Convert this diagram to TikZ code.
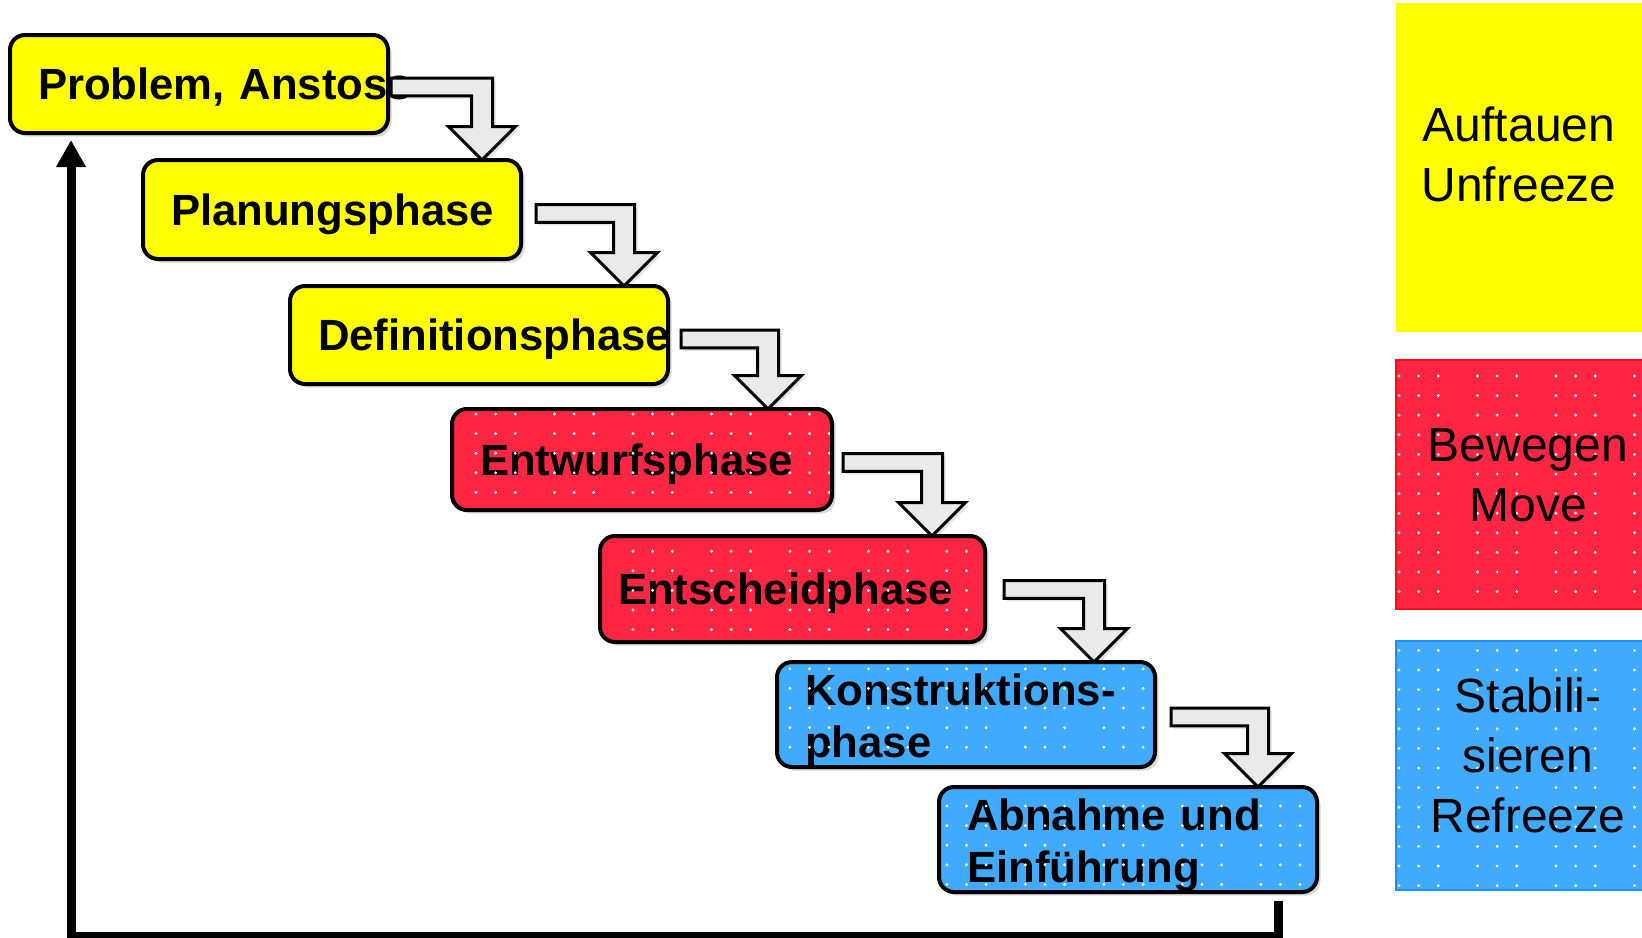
\documentclass[tikz,border=0pt]{standalone}
\usepackage{fontspec}
\setmainfont{Liberation Sans}
\usetikzlibrary{calc,arrows.meta,shadows}

\definecolor{stageyellow}{RGB}{255,255,0}
\definecolor{stagered}{RGB}{255,38,68}
\definecolor{stageblue}{RGB}{64,170,255}
\definecolor{redline}{RGB}{255,10,30}
\definecolor{blueline}{RGB}{30,145,255}
\definecolor{arrowgray}{RGB}{234,234,234}

\tikzset{
  stage/.style={draw=black, line width=2pt, rounded corners=7.5pt, anchor=north west,
    outer sep=0pt, inner xsep=14pt, inner ysep=0pt, text width=161pt, align=left,
    text depth=0pt,
    font=\bfseries\fontsize{21.85}{26}\selectfont,
    drop shadow={shadow xshift=1.8pt, shadow yshift=-1.8pt, fill=black, opacity=0.15}},
  twoline/.style={text depth=24.6pt},
  stagearrow/.style={draw=black, line width=1.5pt, fill=arrowgray, line join=miter,
    drop shadow={shadow xshift=1.5pt, shadow yshift=-1.5pt, fill=black, opacity=0.1}},
  feedback/.style={draw=black, line width=4.5pt, line join=miter,
    -{Triangle[length=13.5pt,width=14pt]}},
  panelbox/.style={rectangle, anchor=north west, outer sep=0pt, inner sep=0pt,
    minimum width=132pt},
  paneltext/.style={align=center, inner sep=0pt, font=\fontsize{24}{30}\selectfont},
  griddot/.style={fill=white},
}

% bent step arrow: from node #1 (offset #2 from its east anchor) down onto node #3,
% tip #4 units left of its north east corner
\newcommand\stagearrow[4]{%
  \path[stagearrow] let \p1=($(#1.east)+(#2)$), \p2=($(#3.north east)+(-#4,0)$) in
    (\x1,\y1+4.4pt) -- (\x2+5.25pt,\y1+4.4pt) -- (\x2+5.25pt,\y2+16.75pt)
    -- (\x2+16.75pt,\y2+16.75pt) -- (\x2,\y2) -- (\x2-16.75pt,\y2+16.75pt)
    -- (\x2-5.25pt,\y2+16.75pt) -- (\x2-5.25pt,\y1-4.4pt) -- (\x1,\y1-4.4pt) -- cycle;}

% white dot raster laid over a node, every fourth column left out
\newcommand\dotgrid[5]{%
  \begin{scope}
    \clip[rounded corners=6pt] ($(#1.south west)+(2,-2)$) rectangle ($(#1.north east)+(-2,2)$);
    \foreach \n in {#2,...,#3}{%
      \pgfmathtruncatemacro\k{mod(\n+400,4)}%
      \ifnum\k=3\relax\else
        \foreach \m in {#4,...,#5}{\fill[griddot] ({476+19.62*(\n)},{414+19.6*(\m)}) circle (0.8pt);}%
      \fi}
  \end{scope}}

\newcommand\paneldots[4]{%
  \begin{scope}
    \clip ($(#1.south west)+(1,-1)$) rectangle ($(#1.north east)+(-1,1)$);
    \foreach \n in {0,...,12}{%
      \pgfmathtruncatemacro\k{mod(\n,4)}%
      \ifnum\k=3\relax\else
        \foreach \m in {#2,...,#3}{\fill[griddot] ({1399+19.62*(\n)},{#4+19.6*(\m)}) circle (0.8pt);}%
      \fi}
  \end{scope}}

\begin{document}
\begin{tikzpicture}[x=0.5pt, y=-0.5pt]
  \useasboundingbox (0,0) rectangle (1642,937);
  \fill[white] (0,0) rectangle (1642,937);

  % process stages
  \node[stage, fill=stageyellow, minimum height=49pt] (b1) at (10,35) {\mbox{Problem, Anstoss}};
  \node[stage, fill=stageyellow, minimum height=49.5pt] (b2) at (143,160) {\mbox{Planungsphase}};
  \node[stage, fill=stageyellow, minimum height=49pt] (b3) at (290,286) {\mbox{Definitionsphase}};
  \node[stage, fill=stagered, minimum height=50.5pt, text width=162pt] (b4) at (452,409) {\mbox{Entwurfsphase}};
  \node[stage, fill=stagered, minimum height=53pt, inner xsep=9pt, text width=174.5pt] (b5) at (600,536) {\mbox{Entscheidphase}};
  \node[stage, twoline, fill=stageblue, minimum height=52.5pt] (b6) at (777,662) {\mbox{Konstruktions-}\\\mbox{phase}};
  \node[stage, twoline, fill=stageblue, minimum height=52.5pt] (b7) at (939,787) {\mbox{Abnahme und}\\\mbox{Einführung}};

  \dotgrid{b4}{-1}{18}{0}{5}
  \dotgrid{b5}{6}{26}{6}{12}
  \dotgrid{b6}{15}{35}{12}{18}
  \dotgrid{b7}{23}{43}{19}{25}

  % step arrows between stages
  \stagearrow{b1}{3,3}{b2}{39}
  \stagearrow{b2}{15,4}{b3}{44}
  \stagearrow{b3}{13,4}{b4}{64}
  \stagearrow{b4}{11,3}{b5}{53}
  \stagearrow{b5}{19,0.5}{b6}{61}
  \stagearrow{b6}{16,2.5}{b7}{59}

  % return path
  \coordinate (fbR) at (1278.5,936);
  \coordinate (fbL) at (71,936);
  \draw[feedback, shorten <=4.5pt, shorten >=3.5pt] (b7.south -| fbR) -- (fbR) -- (fbL) -- (b1.south -| fbL);

  % phase legend
  \node[panelbox, fill=stageyellow, minimum height=164.5pt] (pY) at (1396,3) {};
  \node[panelbox, fill=stagered, draw=redline, line width=0.75pt, minimum height=124.5pt] (pR) at (1396,360) {};
  \node[panelbox, fill=stageblue, draw=blueline, line width=0.75pt, minimum height=124.5pt] (pB) at (1396,641) {};
  \paneldots{pR}{0}{11}{376}
  \paneldots{pB}{14}{26}{376}

  \node[paneltext] (tY) at (1519,154.5) {Auftauen\\Unfreeze};
  \node[paneltext] (tR) at (1528,475.5) {Bewegen\\Move};
  \node[paneltext] (tB) at (1528,755) {Stabili-\\sieren\\Refreeze};
\end{tikzpicture}
\end{document}
